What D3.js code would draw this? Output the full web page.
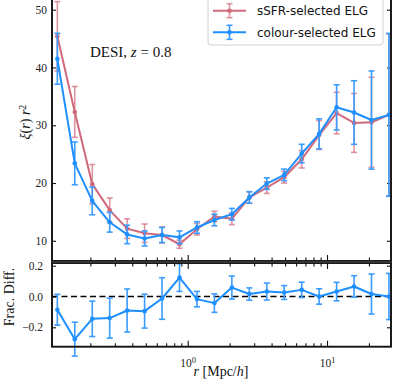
<!DOCTYPE html>
<html>
<head>
<meta charset="utf-8">
<script src="https://cdn.jsdelivr.net/npm/d3@7"></script>
<style>
  html, body { margin: 0; padding: 0; background: #fff; }
  svg { display: block; }
</style>
</head>
<body>
<svg id="chart" width="399" height="388"></svg>
<script>
// ---------------- data ----------------
const rValues = [0.1159, 0.1546, 0.2064, 0.2754, 0.3674, 0.4903, 0.6543, 0.8731, 1.165, 1.555,
                 2.075, 2.769, 3.695, 4.931, 6.58, 8.78, 11.72, 15.64, 20.86, 27.84];
const ssfrXi  = [45.4, 32.3, 19.8, 15.3, 12.1, 11.3, 11.0, 9.4, 12.0, 14.2,
                 13.8, 17.5, 19.2, 21.0, 24.1, 28.3, 32.1, 30.4, 30.5, 31.8];
const ssfrErr = [6.0, 4.4, 3.4, 2.1, 1.7, 1.6, 1.4, 0.7, 1.0, 0.9,
                 1.0, 1.0, 1.0, 1.0, 1.5, 2.5, 3.6, 5.1, 7.8, 14.0];
const colourXi  = [41.5, 23.4, 16.9, 13.2, 11.1, 10.4, 11.0, 10.6, 12.3, 13.6,
                   14.6, 17.5, 19.9, 21.4, 25.1, 28.5, 33.1, 32.2, 30.9, 31.8];
const colourErr = [4.4, 3.7, 2.4, 1.7, 1.6, 1.3, 1.3, 1.1, 1.0, 1.0,
                   1.0, 1.0, 1.0, 1.0, 1.6, 2.6, 3.9, 5.5, 8.5, 14.1];
const fracDiff = [-0.086, -0.277, -0.145, -0.140, -0.091, -0.095, -0.013, 0.123, -0.017, -0.043,
                  0.058, 0.016, 0.032, 0.026, 0.043, 0.000, 0.032, 0.065, 0.016, 0.000];
const fracErr  = [0.10, 0.11, 0.115, 0.13, 0.14, 0.11, 0.135, 0.09, 0.05, 0.06,
                  0.075, 0.04, 0.055, 0.045, 0.05, 0.05, 0.06, 0.07, 0.13, 0.15];
const yTicksTop = [10, 20, 30, 40, 50];
const yTicksBottom = [-0.2, 0.0, 0.2];
const xMajorTicks = [1, 10];
const xMinorTicks = [0.2, 0.3, 0.4, 0.5, 0.6, 0.7, 0.8, 0.9, 2, 3, 4, 5, 6, 7, 8, 9, 20];
const seriesLabels = ["sSFR-selected ELG", "colour-selected ELG"];
const annotation = {main: "DESI, ", italic: "z", rest: " = 0.8"};

// ---------------- layout ----------------
const RED = "#d0697b", BLUE = "#1e8fff", BLUE_ERR = "#3a9cff";
const L = 52, R = 391;
const topPanel = {top: -19.2, bottom: 261};
const botPanel = {top: 263, bottom: 346.7};
const SERIF = "'Liberation Serif', 'DejaVu Serif', serif";

const svg = d3.select("#chart");

const x = d3.scaleLog().domain([0.1061, 28.8]).range([L, R]);
const yTop = d3.scaleLinear().domain([6.5, 55]).range([topPanel.bottom, topPanel.top]);
const yBot = d3.scaleLinear().domain([-0.326, 0.2175]).range([botPanel.bottom, botPanel.top]);

function styleAxis(g) {
  g.select(".domain").remove();
  g.selectAll(".tick line").attr("stroke", "#111").attr("stroke-width", 1.1);
  g.selectAll(".tick text").attr("font-family", SERIF).attr("font-size", "11.5px").attr("fill", "#222");
}

// ---- x ticks (inward) on each horizontal spine
function xTicks(yPos, dir, labels) {
  const major = (dir < 0 ? d3.axisBottom(x) : d3.axisTop(x))
      .tickValues(xMajorTicks).tickSize(-6).tickPadding(8)
      .tickFormat(() => "");
  const gMaj = svg.append("g").attr("transform", `translate(0,${yPos})`).call(major);
  styleAxis(gMaj);
  const minor = (dir < 0 ? d3.axisBottom(x) : d3.axisTop(x))
      .tickValues(xMinorTicks).tickSize(-3.5).tickFormat(() => "");
  const gMin = svg.append("g").attr("transform", `translate(0,${yPos})`).call(minor);
  styleAxis(gMin);
  if (labels) {
    gMaj.selectAll(".tick text").each(function(d) {
      const t = d3.select(this);
      t.text(null).attr("font-size", "11.5px").attr("dy", "1.05em");
      t.append("tspan").text("10");
      t.append("tspan").attr("dy", "-0.42em").attr("font-size", "8.5px").text(String(Math.round(Math.log10(d))));
    });
  }
}

// ---- top panel
const gyTopL = svg.append("g").attr("transform", `translate(${L},0)`)
  .call(d3.axisLeft(yTop).tickValues(yTicksTop).tickSize(-4).tickPadding(5).tickFormat(d3.format("d")));
styleAxis(gyTopL);
const gyTopR = svg.append("g").attr("transform", `translate(${R},0)`)
  .call(d3.axisRight(yTop).tickValues(yTicksTop).tickSize(-4).tickFormat(() => ""));
styleAxis(gyTopR);
xTicks(topPanel.bottom, -1, false);

// ---- bottom panel
const gyBotL = svg.append("g").attr("transform", `translate(${L},0)`)
  .call(d3.axisLeft(yBot).tickValues(yTicksBottom).tickSize(-4).tickPadding(9)
        .tickFormat(d => d === 0 ? "0.0" : d3.format(".1f")(d).replace("-", "\u2212")));
styleAxis(gyBotL);
const gyBotR = svg.append("g").attr("transform", `translate(${R},0)`)
  .call(d3.axisRight(yBot).tickValues(yTicksBottom).tickSize(-4).tickFormat(() => ""));
styleAxis(gyBotR);
xTicks(botPanel.top, 1, false);
xTicks(botPanel.bottom, -1, true);

// zero line
svg.append("line")
  .attr("x1", L).attr("x2", R).attr("y1", yBot(0)).attr("y2", yBot(0))
  .attr("stroke", "#000").attr("stroke-width", 1.6).attr("stroke-dasharray", "6,3.5");

// ---------------- series drawing ----------------
function drawSeries(g, yScale, vals, errs, color, errColor, errOpacity) {
  const eb = g.append("g").attr("stroke", errColor).attr("stroke-opacity", errOpacity).attr("stroke-width", 1.6);
  rValues.forEach((r, i) => {
    const cx = x(r), y1 = yScale(vals[i] - errs[i]), y2 = yScale(vals[i] + errs[i]);
    eb.append("line").attr("x1", cx).attr("x2", cx).attr("y1", y1).attr("y2", y2);
    eb.append("line").attr("x1", cx - 3).attr("x2", cx + 3).attr("y1", y1).attr("y2", y1);
    eb.append("line").attr("x1", cx - 3).attr("x2", cx + 3).attr("y1", y2).attr("y2", y2);
  });
  const line = d3.line().x((d, i) => x(rValues[i])).y(d => yScale(d));
  g.append("path").datum(vals).attr("d", line)
    .attr("fill", "none").attr("stroke", color).attr("stroke-width", 2).attr("stroke-linejoin", "round");
  g.append("g").selectAll("circle").data(vals).join("circle")
    .attr("cx", (d, i) => x(rValues[i])).attr("cy", d => yScale(d)).attr("r", 2.3).attr("fill", color);
}

drawSeries(svg.append("g"), yTop, ssfrXi, ssfrErr, RED, RED, 0.7);
drawSeries(svg.append("g"), yTop, colourXi, colourErr, BLUE, BLUE_ERR, 1);
drawSeries(svg.append("g"), yBot, fracDiff, fracErr, BLUE, BLUE_ERR, 1);

// ---------------- spines ----------------
const sp = svg.append("g").attr("fill", "none").attr("stroke", "#111").attr("stroke-width", 1.9);
sp.append("rect").attr("x", L).attr("y", topPanel.top).attr("width", R - L).attr("height", topPanel.bottom - topPanel.top);
sp.append("rect").attr("x", L).attr("y", botPanel.top).attr("width", R - L).attr("height", botPanel.bottom - botPanel.top);
svg.append("rect").attr("x", L).attr("y", topPanel.bottom).attr("width", R - L)
  .attr("height", botPanel.top - topPanel.bottom).attr("fill", "#333");

// ---------------- legend ----------------
const lg = svg.append("g");
lg.append("rect").attr("x", 208).attr("y", -6).attr("width", 175).attr("height", 51)
  .attr("rx", 3).attr("fill", "#fff").attr("fill-opacity", 0.85).attr("stroke", "#d0d0d0").attr("stroke-width", 1);
[[RED, RED, 0.7], [BLUE, BLUE_ERR, 1]].forEach(([c, ec, op], i) => {
  const cy = 10.7 + i * 21.6, cx = 229.5;
  lg.append("line").attr("x1", 213).attr("x2", 246).attr("y1", cy).attr("y2", cy)
    .attr("stroke", c).attr("stroke-width", 2);
  const e = lg.append("g").attr("stroke", ec).attr("stroke-opacity", op).attr("stroke-width", 1.6);
  e.append("line").attr("x1", cx).attr("x2", cx).attr("y1", cy - 7).attr("y2", cy + 7);
  e.append("line").attr("x1", cx - 3).attr("x2", cx + 3).attr("y1", cy - 7).attr("y2", cy - 7);
  e.append("line").attr("x1", cx - 3).attr("x2", cx + 3).attr("y1", cy + 7).attr("y2", cy + 7);
  lg.append("circle").attr("cx", cx).attr("cy", cy).attr("r", 2.3).attr("fill", c);
  lg.append("text").attr("x", 257).attr("y", cy).attr("dy", "0.36em")
    .attr("font-family", "'DejaVu Sans', sans-serif").attr("font-size", "12px").attr("fill", "#111")
    .text(seriesLabels[i]);
});

// ---------------- texts ----------------
const ann = svg.append("text").attr("x", 90).attr("y", 57)
  .attr("font-family", SERIF).attr("font-size", "15px").attr("fill", "#111");
ann.append("tspan").text(annotation.main);
ann.append("tspan").attr("font-style", "italic").text(annotation.italic);
ann.append("tspan").text(annotation.rest);

// y label top
const yl = svg.append("text").attr("transform", "translate(30,122) rotate(-90)")
  .attr("text-anchor", "middle").attr("font-family", SERIF).attr("font-size", "14px").attr("fill", "#111");
yl.append("tspan").attr("font-style", "italic").text("\u03BE");
yl.append("tspan").text("(");
yl.append("tspan").attr("font-style", "italic").text("r");
yl.append("tspan").text(") ");
yl.append("tspan").attr("font-style", "italic").text("r");
yl.append("tspan").attr("dy", "-0.45em").attr("font-size", "10px").text("2");

// y label bottom
svg.append("text").attr("transform", "translate(14,297) rotate(-90)")
  .attr("text-anchor", "middle").attr("font-family", SERIF).attr("font-size", "14px").attr("fill", "#111")
  .text("Frac. Diff.");

// x label
const xl = svg.append("text").attr("x", 221).attr("y", 376).attr("text-anchor", "middle")
  .attr("font-family", SERIF).attr("font-size", "14px").attr("fill", "#111");
xl.append("tspan").attr("font-style", "italic").text("r");
xl.append("tspan").text(" [Mpc/");
xl.append("tspan").attr("font-style", "italic").text("h");
xl.append("tspan").text("]");
</script>
</body>
</html>
